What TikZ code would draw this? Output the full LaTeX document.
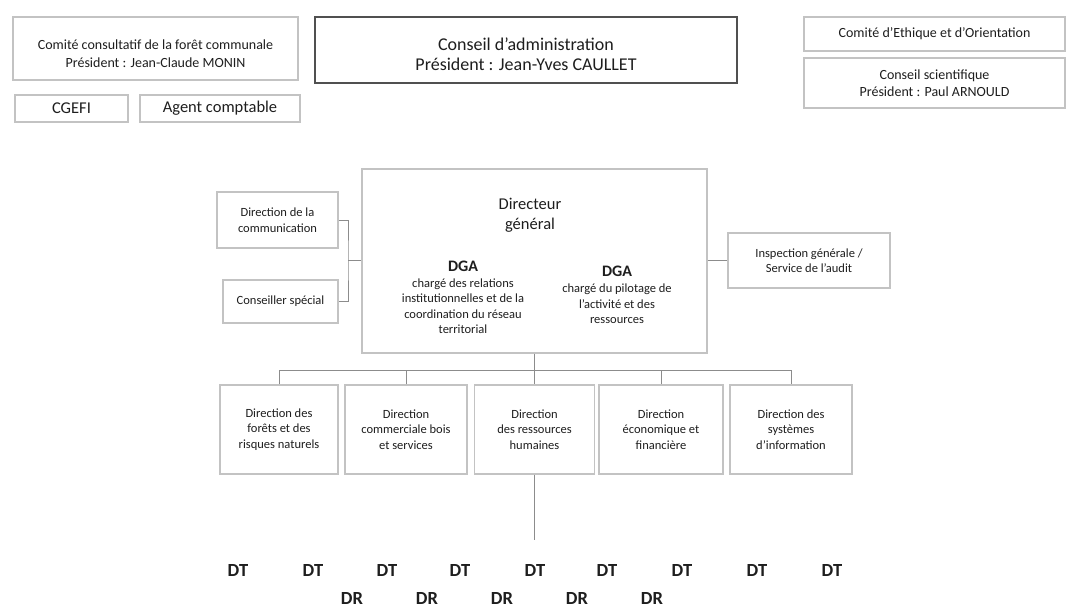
\documentclass[tikz,border=0pt]{standalone}
\usepackage{fontspec}
\setmainfont{Carlito}
\definecolor{boxgray}{RGB}{195,195,195}
\definecolor{darkbox}{RGB}{80,80,80}
\definecolor{linec}{RGB}{140,140,140}
\definecolor{textc}{RGB}{30,30,30}
\newcommand{\ftTop}{\fontsize{14}{17.5}\selectfont}
\newcommand{\ftBig}{\fontsize{16.5}{20}\selectfont}
\newcommand{\ftCA}{\fontsize{18}{19.5}\selectfont}
\newcommand{\ftSm}{\fontsize{12.5}{15.5}\selectfont}
\newcommand{\ftDGA}{\fontsize{16}{18}\selectfont\bfseries}
\newcommand{\ftDT}{\fontsize{18.5}{20}\selectfont\bfseries}
\begin{document}
\begin{tikzpicture}[x=1pt,y=-1pt,
  box/.style={draw=boxgray, line width=1.1pt, fill=white, align=center, inner sep=0pt, text=textc, font=\ftSm},
  cabox/.style={draw=darkbox, line width=1.4pt, fill=white, align=center, inner sep=0pt, text=textc, font=\ftCA},
  lbl/.style={align=center, inner sep=0pt, text=textc},
  conn/.style={draw=linec, line width=1pt}]
\useasboundingbox[fill=white] (0,0) rectangle (1074,607);

% top row
\node[box, minimum width=285, minimum height=63,
  label={[lbl, font=\ftTop, yshift=-5pt]center:{Comité consultatif de la forêt communale\\Président : Jean-Claude MONIN}}] (cc) at (155.5,48.5) {};
\node[box, font=\ftBig, minimum width=113, minimum height=27] (cgefi) at (71.5,108.5) {CGEFI};
\node[box, font=\ftBig, minimum width=160, minimum height=27] (agent) at (220,108.5) {Agent comptable};
\node[cabox, minimum width=422, minimum height=66,
  label={[lbl, font=\ftCA, yshift=-4pt]center:{Conseil d’administration\\Président : Jean-Yves CAULLET}}] (ca) at (526,50) {};
\node[box, font=\ftTop, minimum width=261, minimum height=34] (ethique) at (934.5,34)
  {Comité d’Ethique et d’Orientation};
\node[box, font=\ftTop, minimum width=261, minimum height=50] (sci) at (934.5,83)
  {Conseil scientifique\\Président : Paul ARNOULD};

% middle
\node[box, minimum width=345, minimum height=184] (dg) at (534.5,261) {};
\node[lbl, font=\ftBig] (dgt) at (530,215) {Directeur\\général};
\node[lbl, font=\ftDGA] (dga1) at (463,266) {DGA};
\node[lbl, font=\ftSm] (dga1t) at (463,306) {chargé des relations\\institutionnelles et de la\\coordination du réseau\\territorial};
\node[lbl, font=\ftDGA] (dga2) at (617,271) {DGA};
\node[lbl, font=\ftSm] (dga2t) at (617,304) {chargé du pilotage de\\l’activité et des\\ressources};

\node[box, minimum width=121, minimum height=56] (com) at (277.5,220) {Direction de la\\communication};
\node[box, minimum width=115, minimum height=43] (cons) at (280.5,301.5) {Conseiller spécial};
\node[box, minimum width=162, minimum height=55] (insp) at (809,260.5) {Inspection générale /\\Service de l’audit};

% directions
\node[box, minimum width=118, minimum height=89] (d1) at (279,429.5) {Direction des\\forêts et des\\risques naturels};
\node[box, minimum width=122, minimum height=89] (d2) at (406,429.5) {Direction\\commerciale bois\\et services};
\node[box, minimum width=120, minimum height=89] (d3) at (534.5,429.5) {Direction\\des ressources\\humaines};
\node[box, minimum width=124, minimum height=89] (d4) at (661,429.5) {Direction\\économique et\\financière};
\node[box, minimum width=122, minimum height=89] (d5) at (791,429.5) {Direction des\\systèmes\\d’information};

% connectors
\coordinate (jl) at (348,260);
\draw[conn] (com.east) -| (jl) |- (cons.east);
\draw[conn] (jl) -- (jl -| dg.west);
\draw[conn] (dg.east |- insp.west) -- (insp.west);
\coordinate (bus) at (534.5,370);
\draw[conn] (dg.south) -- (d3.north);
\draw[conn] (d1.north) -- (d1.north |- bus) -| (d5.north);
\draw[conn] (d2.north) -- (d2.north |- bus);
\draw[conn] (d4.north) -- (d4.north |- bus);
\coordinate (tail) at (534.5,540);
\draw[conn] (d3.south) -- (tail);

% DT / DR
\foreach \i/\x in {1/238,2/313,3/387,4/460,5/535,6/607,7/682,8/757,9/832}
  \node[lbl, font=\ftDT] (dt\i) at (\x,570) {DT};
\foreach \i/\x in {1/352,2/427,3/502,4/577,5/652}
  \node[lbl, font=\ftDT] (dr\i) at (\x,598) {DR};
\end{tikzpicture}
\end{document}
